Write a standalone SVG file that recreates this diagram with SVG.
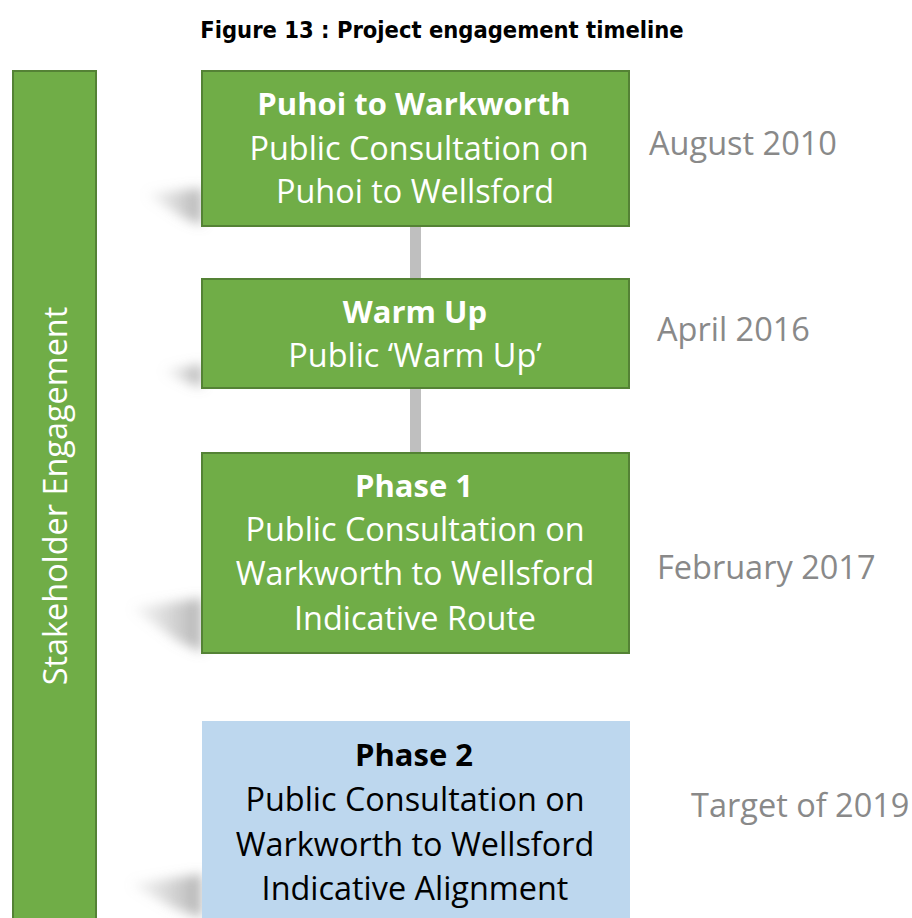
<svg xmlns="http://www.w3.org/2000/svg" width="912" height="918" viewBox="0 0 912 918">
  <style>
    .title { font-family: "DejaVu Sans Condensed", "DejaVu Sans", sans-serif; font-weight: bold; font-size: 23.5px; fill: #000; }
    .green { fill: #70AD47; stroke: #548235; stroke-width: 2; }
    .blue { fill: #BDD7EE; }
    .t { font-family: "Open Sans", "Liberation Sans", sans-serif; font-size: 32.4px; text-anchor: middle; }
    .w { fill: #FFFFFF; }
    .k { fill: #000000; }
    .b { font-weight: bold; font-size: 31px; }
    .date { font-family: "Open Sans", "Liberation Sans", sans-serif; font-size: 32.5px; fill: #898989; }
    .shadow { fill: url(#shadeGrad); filter: url(#soft); }
    .link { stroke: #BFBFBF; stroke-width: 11; fill: none; }
  </style>
  <defs>
    <linearGradient id="shadeGrad" x1="0" y1="0" x2="1" y2="0">
      <stop offset="0" stop-color="#A8A8A8" stop-opacity="0.1"/>
      <stop offset="1" stop-color="#808080" stop-opacity="0.6"/>
    </linearGradient>
    <filter id="soft" x="-40%" y="-60%" width="180%" height="220%">
      <feGaussianBlur stdDeviation="6"/>
    </filter>
  </defs>

  <rect width="912" height="918" fill="#FFFFFF"/>

  <text class="title" x="442" y="38" text-anchor="middle">Figure 13 : Project engagement timeline</text>

  <!-- side bar -->
  <g id="stakeholder">
    <rect class="green" x="13" y="71" width="83" height="860"/>
    <text class="t w" transform="translate(67 496) rotate(-90)" font-size="31">Stakeholder Engagement</text>
  </g>

  <!-- drop shadows behind the boxes -->
  <g id="shadows">
    <polygon class="shadow" points="146,194 202,188 202,225 184,218"/>
    <polygon class="shadow" points="163,371 202,364 202,387 189,383"/>
    <polygon class="shadow" points="132,608 202,598 202,652 178,641"/>
    <polygon class="shadow" points="130,884 202,874 202,918 174,908"/>
  </g>

  <!-- connectors -->
  <g id="connectors">
    <line class="link" x1="415.5" y1="226" x2="415.5" y2="278"/>
    <line class="link" x1="415.5" y1="388" x2="415.5" y2="452"/>
  </g>

  <g id="puhoi">
    <rect class="green" x="202" y="71" width="427" height="155"/>
    <text class="t w b" x="414" y="115">Puhoi to Warkworth</text>
    <text class="t w" x="419" y="160">Public Consultation on</text>
    <text class="t w" x="415" y="203">Puhoi to Wellsford</text>
  </g>

  <g id="warmup">
    <rect class="green" x="202" y="279" width="427" height="109"/>
    <text class="t w b" x="415" y="323">Warm Up</text>
    <text class="t w" x="415" y="367">Public ‘Warm Up’</text>
  </g>

  <g id="phase1">
    <rect class="green" x="202" y="453" width="427" height="200"/>
    <text class="t w b" x="414" y="497">Phase 1</text>
    <text class="t w" x="415" y="541">Public Consultation on</text>
    <text class="t w" x="415" y="585">Warkworth to Wellsford</text>
    <text class="t w" x="415" y="630">Indicative Route</text>
  </g>

  <g id="phase2">
    <rect class="blue" x="202" y="721" width="428" height="210"/>
    <text class="t k b" x="414" y="766">Phase 2</text>
    <text class="t k" x="415" y="811">Public Consultation on</text>
    <text class="t k" x="415" y="856">Warkworth to Wellsford</text>
    <text class="t k" x="415" y="900">Indicative Alignment</text>
  </g>

  <!-- dates -->
  <g id="dates">
    <text class="date" x="649" y="155">August 2010</text>
    <text class="date" x="657" y="341">April 2016</text>
    <text class="date" x="657" y="579">February 2017</text>
    <text class="date" x="691" y="817">Target of 2019</text>
  </g>
</svg>
